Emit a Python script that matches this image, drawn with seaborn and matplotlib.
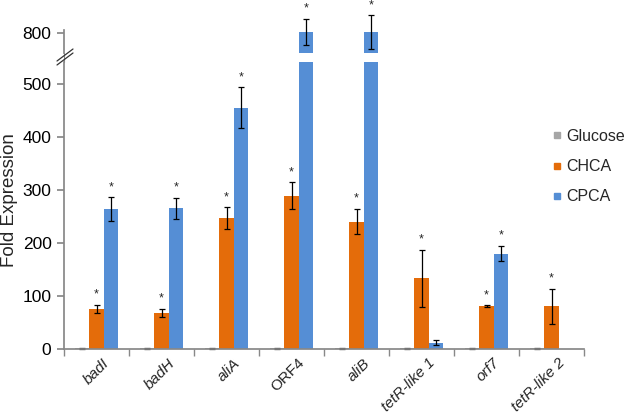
import matplotlib
matplotlib.use("Agg")
import matplotlib.pyplot as plt
from matplotlib.lines import Line2D
from matplotlib.transforms import ScaledTranslation
import numpy as np
import pandas as pd
import seaborn as sns

# Data
genes = ["badI", "badH", "aliA", "ORF4", "aliB", "tetR-like 1", "orf7", "tetR-like 2"]
italic = [True, True, True, False, True, True, True, True]
conditions = ["Glucose", "CHCA", "CPCA"]

glucose = [1.5, 1, 1.5, 1, 1, 1, 1, 1.5]
chca = [75, 68, 247, 289, 240, 133, 81, 81]
cpca = [264, 265, 455, 802, 802, 12, 180, 0]

glucose_err = [1, 0.5, 1, 0.5, 0.5, 0.5, 0.5, 1]
chca_err = [8, 8, 20, 25, 24, 54, 1, 33]
cpca_err = [22, 20, 38, 25, 32, 5, 14, 0]

chca_sig = [True, True, True, True, True, True, True, True]
cpca_sig = [True, True, True, True, True, False, True, False]

colors = ["#A6A6A6", "#E46C0A", "#558ED5"]
spine_col = "#888888"

sns.set_theme(style="white")
plt.rcParams["font.family"] = ["Liberation Sans", "DejaVu Sans"]

df = pd.DataFrame({
    "gene": genes * 3,
    "condition": np.repeat(conditions, len(genes)),
    "fold": glucose + chca + cpca,
})
errs = [glucose_err, chca_err, cpca_err]
sigs = [[False] * len(genes), chca_sig, cpca_sig]

fig = plt.figure(figsize=(6.33, 4.17), dpi=100)
left, width = 64 / 633, 520 / 633
ax = fig.add_axes([left, 1 - 349 / 417, width, 287 / 417])
ax_top = fig.add_axes([left, 1 - 53 / 417, width, 23 / 417])

for a in (ax, ax_top):
    sns.barplot(data=df, x="gene", y="fold", hue="condition", palette=colors,
                width=0.67, errorbar=None, legend=False, saturation=1,
                linewidth=0, ax=a)
    a.set_xlim(-0.5, len(genes) - 0.5)
    a.set_xlabel("")
    a.set_ylabel("")
    for s in ("top", "right"):
        a.spines[s].set_visible(False)
    a.spines["left"].set_color(spine_col)
    a.spines["bottom"].set_color(spine_col)
    a.tick_params(axis="y", length=5, color=spine_col, labelsize=12.5, pad=4,
                  left=True, labelcolor="black")

ax.set_ylim(0, 541)
ax.set_yticks([0, 100, 200, 300, 400, 500])
ax_top.set_ylim(762, 806)
ax_top.set_yticks([800])
ax_top.spines["bottom"].set_visible(False)
ax_top.set_xticks([])

# category ticks at group boundaries, labels at centres
ax.set_xticks(np.arange(len(genes)))
ax.set_xticks(np.arange(-0.5, len(genes)), minor=True)
ax.tick_params(axis="x", which="major", length=0, pad=5)
ax.tick_params(axis="x", which="minor", length=5, color=spine_col, bottom=True)
ax.set_xticklabels(genes, rotation=45, ha="right", rotation_mode="anchor", fontsize=11)
shift = ScaledTranslation(6 / 100, 0, fig.dpi_scale_trans)
for lab, it in zip(ax.get_xticklabels(), italic):
    lab.set_transform(lab.get_transform() + shift)
    if it:
        lab.set_style("italic")

# error bars and significance stars
for a, top in ((ax, False), (ax_top, True)):
    for cont, err, sig in zip(a.containers, errs, sigs):
        for bar, e, s in zip(cont, err, sig):
            h = bar.get_height()
            if h <= 0:
                continue
            if top and h < 762:
                continue
            if not top and h > 541:
                continue
            x = bar.get_x() + bar.get_width() / 2
            a.errorbar(x, h, yerr=e, fmt="none", ecolor="black", elinewidth=0.9,
                       capsize=2.5, capthick=0.9, clip_on=False)
            if s:
                a.annotate("*", (x, h + e), xytext=(0, 3), textcoords="offset points",
                           ha="center", va="bottom", fontsize=9, annotation_clip=False)

# connect spine through gap and draw break marks
fig.add_artist(Line2D([left, left], [1 - 62 / 417, 1 - 53 / 417], color=spine_col,
                      lw=0.8, transform=fig.transFigure))
for dy in (0, 4):
    fig.add_artist(Line2D([57 / 633, 73 / 633], [1 - (61 + dy) / 417, 1 - (49 + dy) / 417],
                          color="#333333", lw=0.9, transform=fig.transFigure))

fig.text(10 / 633, 1 - 200 / 417, "Fold Expression", rotation=90, ha="center",
         va="center", fontsize=13.5)

handles = [Line2D([], [], marker="s", linestyle="none", markersize=4.5,
                  markerfacecolor=c, markeredgecolor=c) for c in colors]
fig.legend(handles, conditions, loc="upper left", bbox_to_anchor=(552 / 633, 1 - 129 / 417),
           frameon=False, fontsize=11.5, handlelength=0.6, handletextpad=0.3,
           labelspacing=0.95, borderpad=0, borderaxespad=0)

fig.savefig("out.png", dpi=100)
